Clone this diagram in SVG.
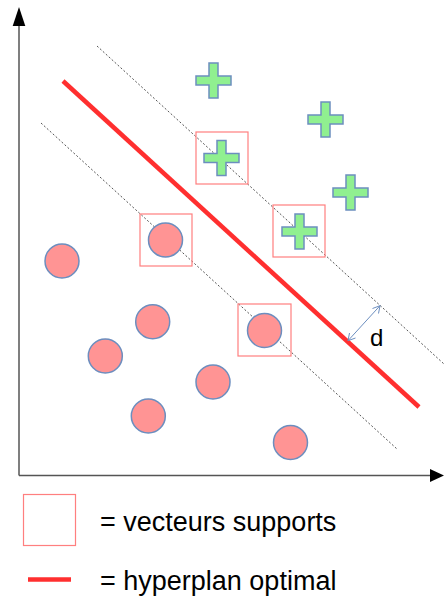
<svg xmlns="http://www.w3.org/2000/svg" xmlns:xlink="http://www.w3.org/1999/xlink" width="444" height="597" viewBox="0 0 444 597">
<style>
.axis{stroke:#555;stroke-width:1.5;fill:none}
.head{fill:#000}
.dash{stroke:#555;stroke-width:1;stroke-dasharray:2,2;fill:none}
.hyper{stroke:#ff2f2f;stroke-width:4.5;fill:none}
.cross{fill:#90f090;stroke:#6c8ebf;stroke-width:1.5}
.circ{fill:#ff9494;stroke:#6c8ebf;stroke-width:1.5}
.sv{fill:none;stroke:#ff7f7f;stroke-width:1.2}
.dim{stroke:#6c8ebf;stroke-width:1;fill:none}
.lbl{font-family:"Liberation Sans",Arial,sans-serif;fill:#000}
</style>
<defs>
<path id="plus" d="M-4.5,-17.5 H4.5 V-4.5 H17.5 V4.5 H4.5 V17.5 H-4.5 V4.5 H-17.5 V-4.5 H-4.5 Z"/>
</defs>
<rect width="444" height="597" fill="#fff"/>
<g id="axes">
<line class="axis" x1="19" y1="24" x2="19" y2="475.5"/>
<polygon class="head" points="19,7 12.7,26 25.3,26"/>
<line class="axis" x1="19" y1="475.5" x2="432" y2="475.5"/>
<polygon class="head" points="444,475.5 430,469 430,482"/>
</g>
<g id="connectors">
<line class="dash" x1="97" y1="46" x2="444" y2="364"/>
<line class="dash" x1="41" y1="123" x2="397" y2="449"/>
<line class="hyper" x1="63" y1="81" x2="419" y2="407"/>
<g id="distance">
<line class="dim" x1="348" y1="340.7" x2="380" y2="305.7"/>
<polyline class="dim" points="349.5,333 348,340.7 355.5,338"/>
<polyline class="dim" points="372.5,308.5 380,305.7 378.5,313.5"/>
<text class="lbl" x="370" y="345.5" font-size="24">d</text>
</g>
</g>
<g id="cross1"><use xlink:href="#plus" class="cross" x="213.5" y="80.5"/></g>
<g id="cross2"><use xlink:href="#plus" class="cross" x="325.5" y="119.5"/></g>
<g id="cross3"><use xlink:href="#plus" class="cross" x="221.5" y="158"/></g>
<g id="cross4"><use xlink:href="#plus" class="cross" x="350.5" y="192.5"/></g>
<g id="cross5"><use xlink:href="#plus" class="cross" x="299.5" y="231.5"/></g>
<g id="circle1"><circle class="circ" cx="62" cy="261" r="17"/></g>
<g id="circle2"><circle class="circ" cx="165.5" cy="240" r="17"/></g>
<g id="circle3"><circle class="circ" cx="152.7" cy="321.7" r="17"/></g>
<g id="circle4"><circle class="circ" cx="105.3" cy="356" r="17"/></g>
<g id="circle5"><circle class="circ" cx="213" cy="382" r="17"/></g>
<g id="circle6"><circle class="circ" cx="148.3" cy="416" r="17"/></g>
<g id="circle7"><circle class="circ" cx="264.5" cy="330.5" r="17"/></g>
<g id="circle8"><circle class="circ" cx="290.5" cy="442.5" r="17"/></g>
<g id="sv1"><rect class="sv" x="196" y="132" width="52" height="52"/></g>
<g id="sv2"><rect class="sv" x="273" y="205" width="52" height="52"/></g>
<g id="sv3"><rect class="sv" x="140" y="214" width="52" height="52"/></g>
<g id="sv4"><rect class="sv" x="238" y="304" width="53" height="52"/></g>
<g id="legend-sv">
<rect class="sv" x="23.5" y="494.5" width="52" height="51"/>
<text class="lbl" x="100" y="531" font-size="27">= vecteurs supports</text>
</g>
<g id="legend-hyper">
<line class="hyper" x1="28" y1="579.5" x2="71" y2="579.5"/>
<text class="lbl" x="100" y="590" font-size="27">= hyperplan optimal</text>
</g>
</svg>
